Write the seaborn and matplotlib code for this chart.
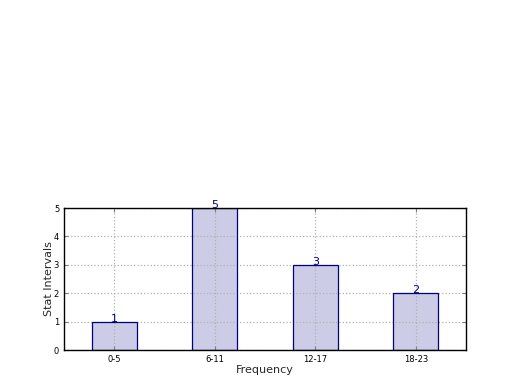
import matplotlib
matplotlib.use("Agg")
import matplotlib.pyplot as plt
import seaborn as sns
import pandas as pd

categories = ["0-5", "6-11", "12-17", "18-23"]
counts = [1, 5, 3, 2]

sns.set_style("white")
plt.rcParams['font.family'] = ['DejaVu Sans']

df = pd.DataFrame({"interval": categories, "count": counts})

fig = plt.figure(figsize=(5.2, 3.9), dpi=100)
ax = fig.add_axes([64/520, 1-350/390, (466-64)/520, (350-208)/390])

# filled faces below the grid
sns.barplot(data=df, x="interval", y="count", ax=ax, width=0.45,
            color="#ccccE6", saturation=1, linewidth=0, zorder=1)
# outlines above the grid
sns.barplot(data=df, x="interval", y="count", ax=ax, width=0.45,
            color="navy", saturation=1, fill=False, linewidth=0.9, zorder=4)

for i, v in enumerate(counts):
    ax.text(i, v, str(v), ha="center", va="baseline", color="navy", fontsize=8, zorder=5)

ax.set_xlim(-0.5, 3.5)
ax.set_ylim(0, 5)
ax.set_yticks([0, 1, 2, 3, 4, 5])
ax.grid(True, linestyle=":", color="#b0b0b0", linewidth=0.9, zorder=3)
ax.set_axisbelow(False)
for s in ax.spines.values():
    s.set_visible(True)
    s.set_color("black")
    s.set_linewidth(1.0)
    s.set_zorder(6)
ax.tick_params(direction="in", length=3, labelsize=6, top=True, right=True,
               bottom=True, left=True, color="gray", labelcolor="black")
ax.set_xlabel("Frequency", fontsize=8, labelpad=1)
ax.set_ylabel("Stat Intervals", fontsize=8, labelpad=0)

fig.savefig("out.png", dpi=100)
